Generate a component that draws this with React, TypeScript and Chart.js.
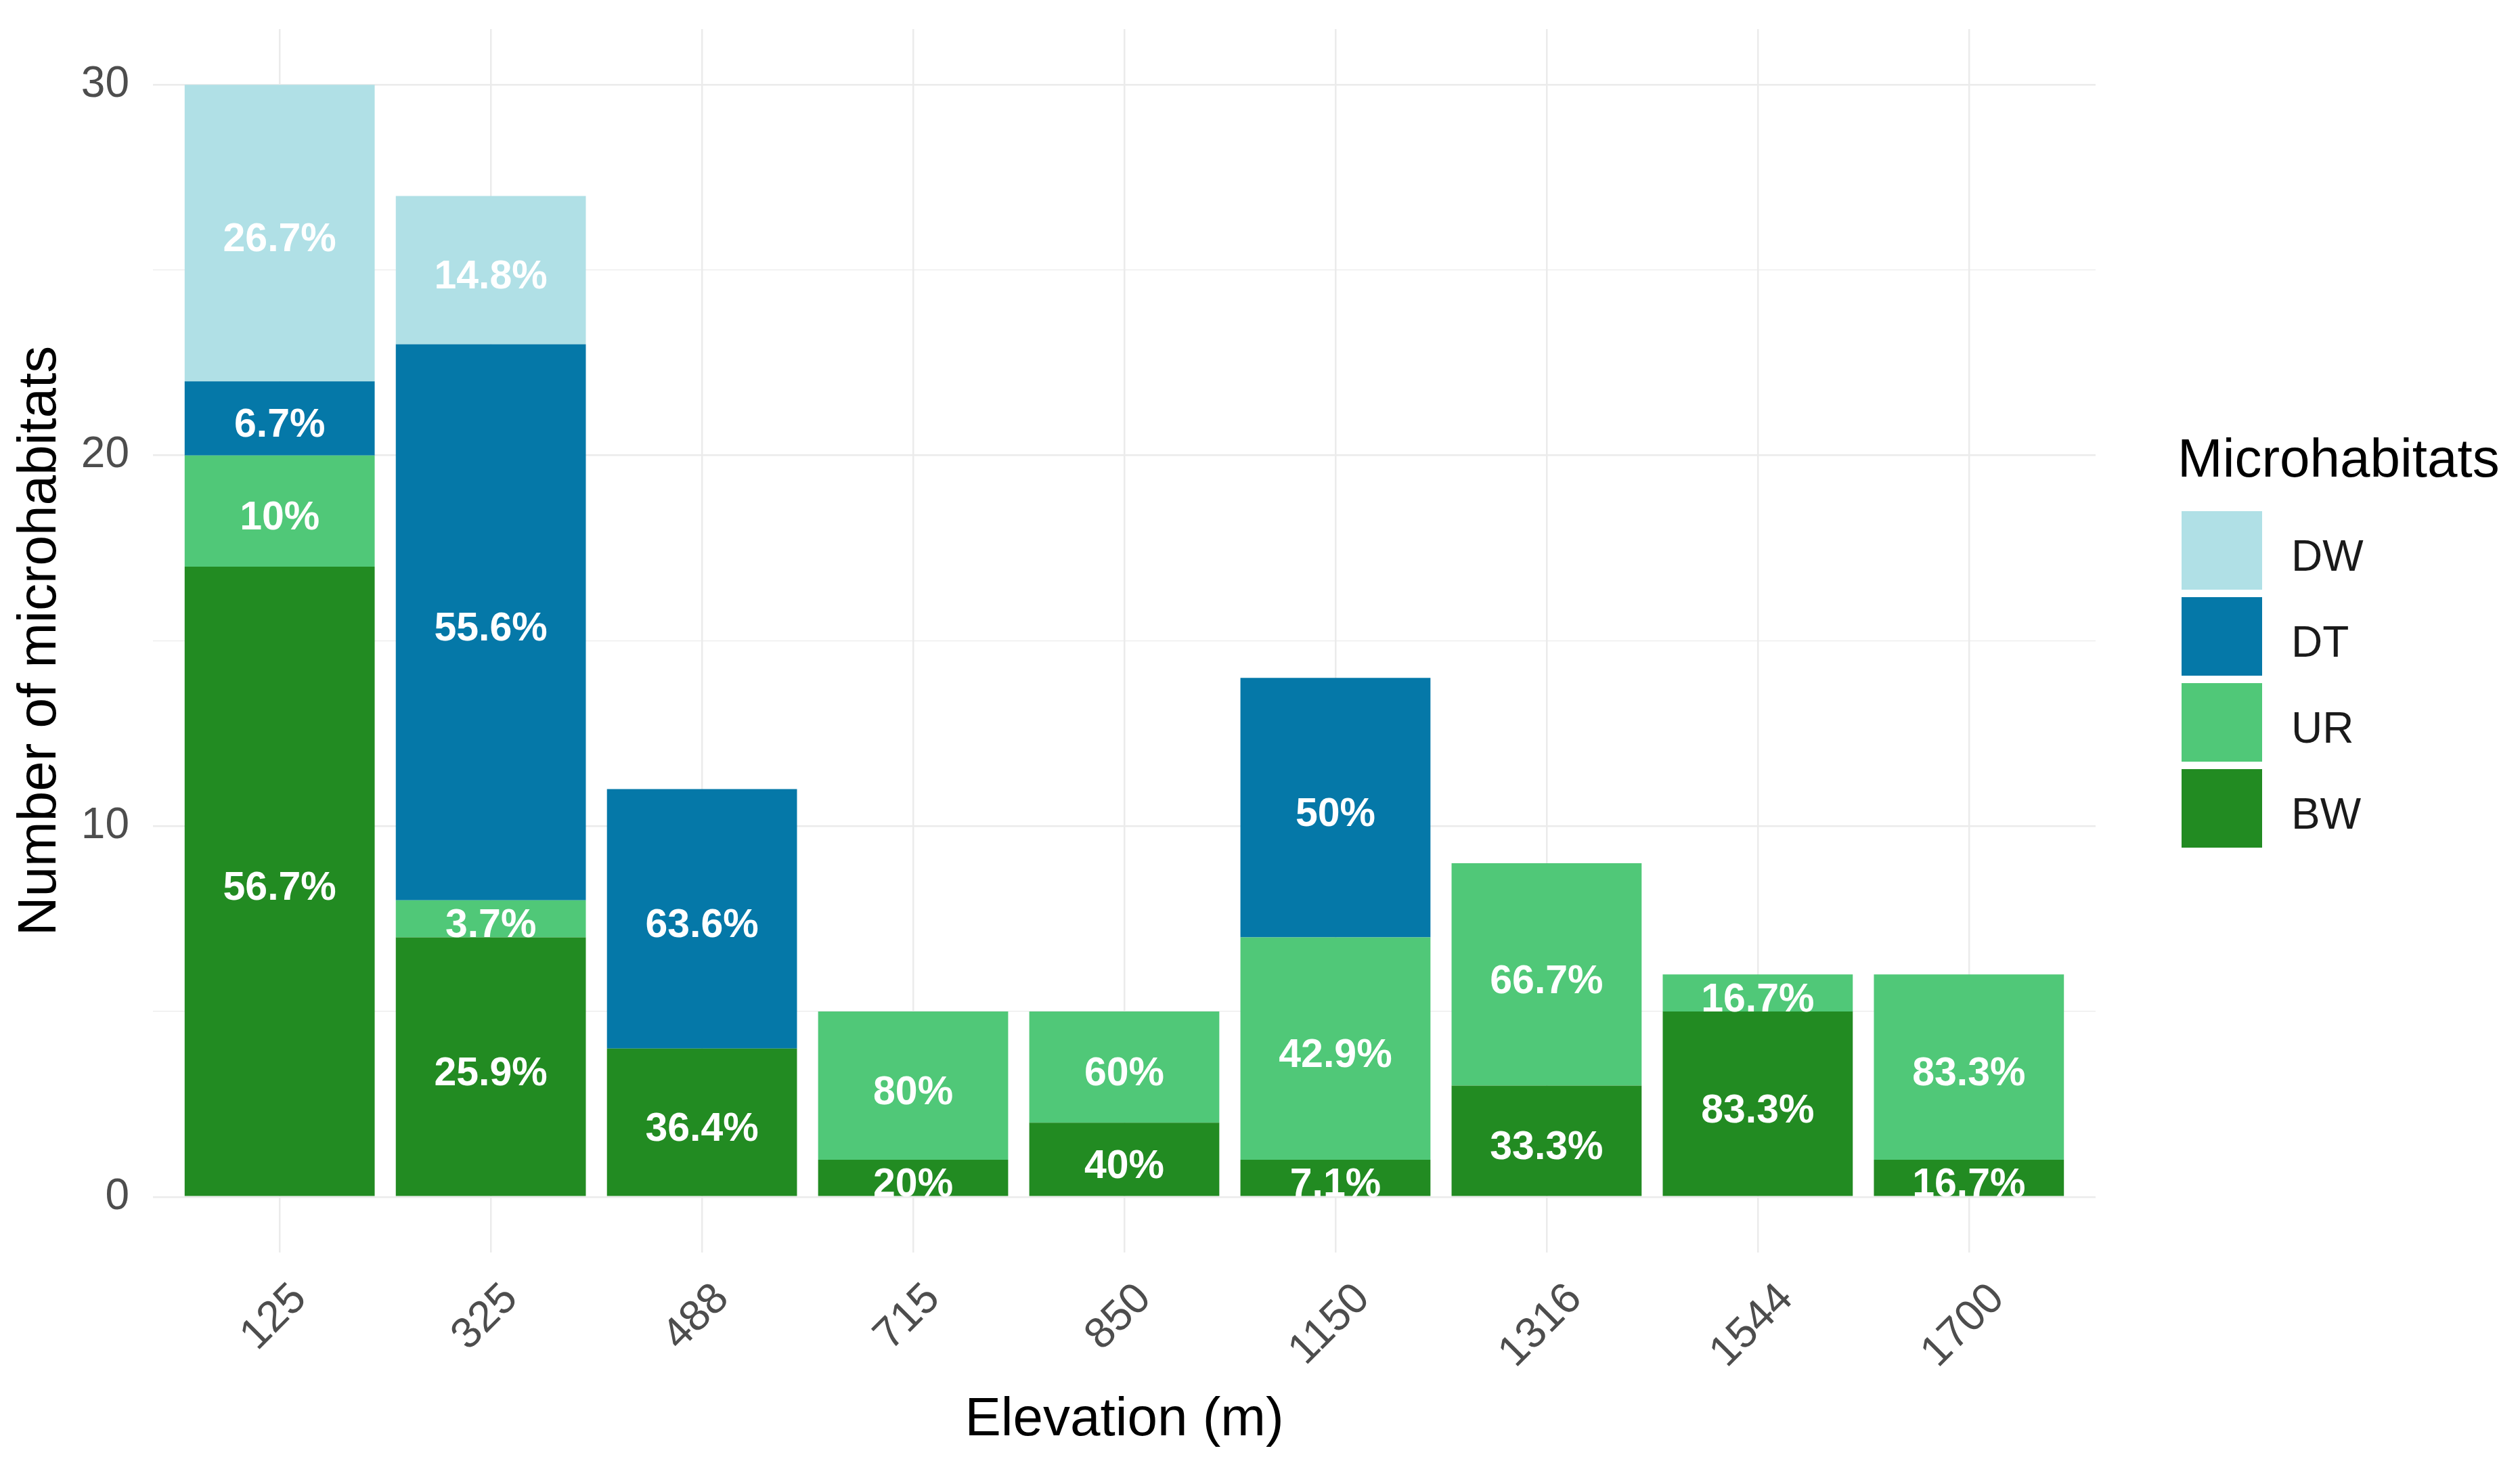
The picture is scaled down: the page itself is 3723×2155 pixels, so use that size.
import React, { useEffect, useRef } from 'react';
import { Chart, registerables } from 'chart.js';

Chart.register(...registerables);

// ---- data ----
const categories = ['125', '325', '488', '715', '850', '1150', '1316', '1544', '1700'];
const seriesNames = ['BW', 'UR', 'DT', 'DW'];
const bwValues = [17, 7, 4, 1, 2, 1, 3, 5, 1];
const urValues = [3, 1, 0, 4, 3, 6, 6, 1, 5];
const dtValues = [2, 15, 7, 0, 0, 7, 0, 0, 0];
const dwValues = [8, 4, 0, 0, 0, 0, 0, 0, 0];
const seriesColors = ['#228B22', '#50C878', '#0578A8', '#B0E0E6'];
const yTickLabels = [0, 10, 20, 30];
const legendTitle = 'Microhabitats';
const xTitle = 'Elevation (m)';
const yTitle = 'Number of microhabitats';

const FONT = '"Liberation Sans", Arial, Helvetica, sans-serif';
const W = 3723;
const H = 2155;

const seriesValues = [bwValues, urValues, dtValues, dwValues];
const totals = categories.map((_, i) => seriesValues.reduce((s, arr) => s + arr[i], 0));

const segLabelPlugin = {
  id: 'segLabels',
  afterDatasetsDraw(chart: any) {
    const ctx = chart.ctx;
    ctx.save();
    ctx.font = `bold 59px ${FONT}`;
    ctx.fillStyle = '#FFFFFF';
    ctx.textAlign = 'center';
    ctx.textBaseline = 'middle';
    chart.data.datasets.forEach((ds: any, di: number) => {
      const meta = chart.getDatasetMeta(di);
      meta.data.forEach((bar: any, i: number) => {
        const v = ds.data[i].y;
        if (!v) return;
        const pct = Math.round((v / totals[i]) * 1000) / 10;
        ctx.fillText(`${pct}%`, bar.x, (bar.y + bar.base) / 2 + 11);
      });
    });
    ctx.restore();
  },
};

const xLabelPlugin = {
  id: 'xLabels',
  afterDraw(chart: any) {
    const ctx = chart.ctx;
    const xs = chart.scales.x;
    const fs = 64;
    ctx.save();
    ctx.font = `${fs}px ${FONT}`;
    ctx.fillStyle = '#4D4D4D';
    ctx.textAlign = 'center';
    ctx.textBaseline = 'middle';
    categories.forEach((c, i) => {
      const px = xs.getPixelForValue(i);
      const w = ctx.measureText(c).width;
      const cy = chart.chartArea.bottom + 42 + ((w + 0.72 * fs) * Math.SQRT1_2) / 2;
      ctx.save();
      ctx.translate(px - 8, cy);
      ctx.rotate(-Math.PI / 4);
      ctx.fillText(c, 0, 0);
      ctx.restore();
    });
    ctx.restore();
  },
};

const legendPlugin = {
  id: 'customLegend',
  afterDraw(chart: any) {
    const ctx = chart.ctx;
    const left = chart.chartArea.right + 127;
    ctx.save();
    ctx.fillStyle = '#000000';
    ctx.font = `80px ${FONT}`;
    ctx.textAlign = 'left';
    ctx.textBaseline = 'middle';
    ctx.fillText(legendTitle, left - 6, 682);
    const order = chart.data.datasets.map((_: any, i: number) => i).reverse();
    order.forEach((di: number, k: number) => {
      const ds = chart.data.datasets[di];
      const top = 755 + k * 127;
      ctx.fillStyle = ds.backgroundColor;
      ctx.fillRect(left, top, 119, 116);
      ctx.fillStyle = '#1A1A1A';
      ctx.font = `64px ${FONT}`;
      ctx.fillText(ds.label, left + 162, top + 70);
    });
    ctx.restore();
  },
};

export default function App() {
  const ref = useRef<HTMLCanvasElement | null>(null);

  useEffect(() => {
    document.body.style.margin = '0';
    document.body.style.overflow = 'hidden';
    const canvas = ref.current;
    if (!canvas) return;
    Chart.defaults.font.family = FONT;

    const datasets = seriesNames.map((name, si) => ({
      label: name,
      data: seriesValues[si].map((v, i) => ({ x: i, y: v })),
      backgroundColor: seriesColors[si],
      borderWidth: 0,
      barPercentage: 0.9,
      categoryPercentage: 1,
      stack: 'all',
    }));

    const chart = new Chart(canvas, {
      type: 'bar',
      data: { datasets },
      plugins: [segLabelPlugin, xLabelPlugin, legendPlugin],
      options: {
        animation: false,
        responsive: false,
        devicePixelRatio: 1,
        layout: { padding: { left: 0, right: 627, top: 43, bottom: 0 } },
        plugins: {
          legend: { display: false },
          tooltip: { enabled: false },
        },
        scales: {
          x: {
            type: 'linear',
            stacked: true,
            min: -0.6,
            max: 8.6,
            offset: false,
            ticks: {
              display: false,
              stepSize: 1,
              includeBounds: false,
              autoSkip: false,
              callback: (v: any) => categories[v as number] ?? '',
            },
            grid: { color: '#EBEBEB', lineWidth: 2.5, drawTicks: false, offset: false },
            border: { display: false },
            title: {
              display: true,
              text: xTitle,
              color: '#000000',
              font: { size: 80, lineHeight: 1 },
              padding: { top: 0, bottom: 17 },
            },
            afterFit: (scale: any) => {
              scale.height = 305;
              scale.paddingLeft = 0;
              scale.paddingRight = 0;
            },
          },
          y: {
            type: 'linear',
            stacked: true,
            min: -1.5,
            max: 31.5,
            ticks: {
              stepSize: 5,
              includeBounds: false,
              autoSkip: false,
              padding: 35,
              color: '#4D4D4D',
              font: { size: 64 },
              callback: (v: any) => (yTickLabels.includes(v as number) ? String(v) : ''),
            },
            grid: {
              color: '#EBEBEB',
              lineWidth: (ctx: any) => (ctx.tick && ctx.tick.value % 10 === 0 ? 2.5 : 1.3),
              drawTicks: false,
            },
            border: { display: false },
            title: {
              display: true,
              text: yTitle,
              color: '#000000',
              font: { size: 80, lineHeight: 1 },
              padding: { top: 20, bottom: 0 },
            },
            afterFit: (scale: any) => {
              scale.width = 226;
              scale.paddingTop = 0;
              scale.paddingBottom = 0;
            },
          },
        },
      } as any,
    });
    return () => chart.destroy();
  }, []);

  return (
    <div style={{ width: W, height: H, background: '#FFFFFF' }}>
      <canvas ref={ref} width={W} height={H} style={{ display: 'block', width: W, height: H }} />
    </div>
  );
}
